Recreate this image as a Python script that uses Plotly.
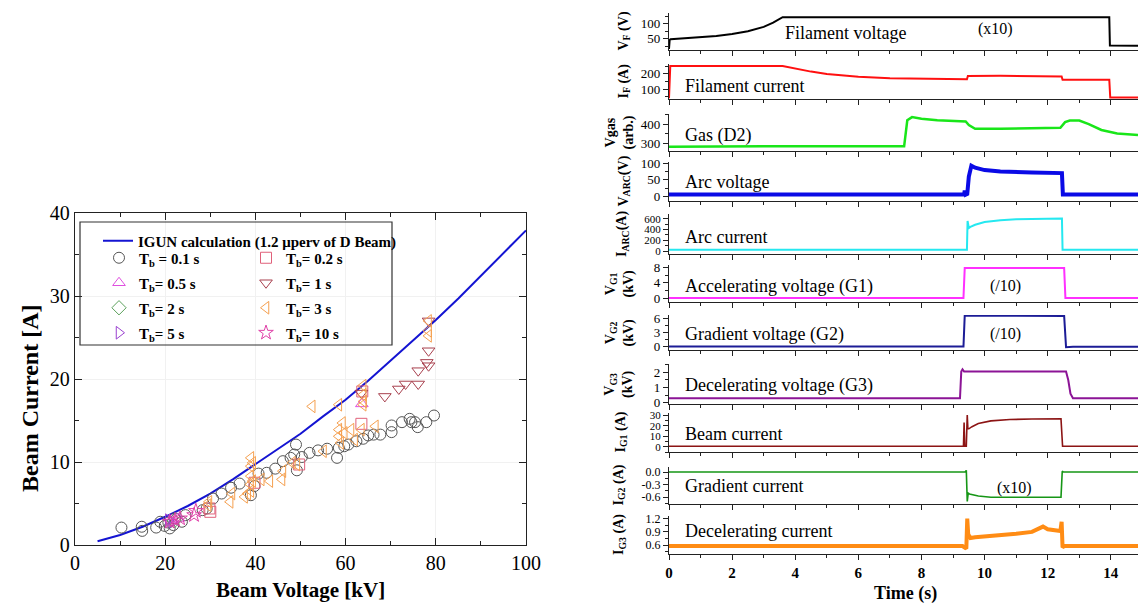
import plotly.graph_objects as go

W, H = 1138, 603
SERIF = "Liberation Serif"

def px(x):
    return x / W

def py(y):
    return 1 - y / H

# ---------------- Left chart data ----------------
igun_v = [5, 10, 15, 20, 25, 30, 35, 40, 45, 50, 55, 60, 65, 70, 75, 80, 85, 90, 95, 100]
igun_i = [0.45, 1.2, 2.2, 3.4, 4.7, 6.2, 7.9, 9.7, 11.5, 13.4, 15.5, 17.5, 19.8, 22.2, 24.7, 27.1, 29.7, 32.4, 35.1, 37.9]

tb01_v = [10.3, 14.8, 14.9, 18.0, 18.9, 19.9, 20.7, 21.0, 21.8, 22.2, 23.7, 24.5, 28.3, 29.2, 30.6, 32.5, 34.6, 36.5,
          39.0, 39.8, 40.7, 42.5, 44.4, 46.1, 47.8, 48.6, 49.0, 49.2, 50.3, 52.0, 53.9, 55.9, 58.1, 58.5, 59.7, 60.6,
          62.4, 63.9, 65.0, 66.2, 67.7, 70.2, 70.2, 72.5, 74.2, 74.6, 75.4, 76.0, 77.9, 79.6]
tb01_i = [2.1, 2.2, 1.7, 2.1, 2.8, 2.3, 2.7, 2.0, 2.4, 3.2, 2.8, 3.6, 4.2, 4.4, 5.6, 6.2, 6.9, 7.4,
          6.0, 7.1, 8.6, 8.7, 9.2, 10.1, 10.5, 10.9, 12.1, 9.0, 10.6, 11.1, 11.4, 11.6, 10.5, 11.7, 11.9, 12.1,
          12.5, 12.8, 13.2, 13.3, 13.3, 13.6, 14.4, 14.8, 15.2, 14.8, 14.8, 14.2, 14.8, 15.6]

tb02_v = [29.8, 30.0, 39.8, 49.7, 63.5, 63.7]
tb02_i = [4.4, 4.0, 7.5, 9.7, 14.6, 18.5]

tb05_v = [21.4, 22.9, 63.6]
tb05_i = [3.0, 3.2, 17.0]

tb1_v = [63.5, 68.7, 71.8, 73.3, 76.1, 76.1, 78.0, 78.4, 78.4, 78.4]
tb1_i = [18.3, 17.9, 18.8, 19.4, 19.4, 21.0, 22.0, 23.4, 21.6, 27.0]

tb2_v = [22.0]
tb2_i = [2.9]

tb3_v = [29.7, 29.5, 34.4, 34.8, 37.6, 38.3, 39.0, 39.0, 39.0, 38.9, 39.0, 39.4, 39.4, 41.3, 43.2, 45.9, 46.1,
         48.2, 49.2, 52.6, 55.1, 58.5, 58.5, 58.5, 58.9, 59.3, 59.7, 61.2, 62.0, 63.5, 63.9, 63.9, 64.0, 63.9,
         66.6, 78.4, 78.4, 78.4]
tb3_i = [5.2, 4.8, 5.2, 6.2, 5.8, 6.2, 10.5, 9.5, 8.3, 7.3, 6.5, 9.9, 7.7, 7.9, 7.7, 7.9, 8.9,
         9.9, 9.7, 16.7, 11.3, 13.9, 13.1, 16.9, 12.3, 14.7, 13.5, 13.9, 12.7, 13.9, 19.2, 18.1, 17.3, 16.9,
         14.3, 27.0, 25.2, 25.8]

tb5_v = [20.7, 21.5]
tb5_i = [3.0, 2.8]

tb10_v = [21.0, 22.2, 23.3, 26.4, 26.8]
tb10_i = [2.8, 3.0, 3.2, 3.6, 4.1]

legend_names = {
    "igun": "<b>IGUN calculation (1.2 \u03bcperv of D Beam)</b>",
    "tb01": "<b>T<sub>b</sub> = 0.1 s</b>",
    "tb02": "<b>T<sub>b</sub>= 0.2 s</b>",
    "tb05": "<b>T<sub>b</sub>= 0.5 s</b>",
    "tb1": "<b>T<sub>b</sub>= 1 s</b>",
    "tb2": "<b>T<sub>b</sub>= 2 s</b>",
    "tb3": "<b>T<sub>b</sub>= 3 s</b>",
    "tb5": "<b>T<sub>b</sub>= 5 s</b>",
    "tb10": "<b>T<sub>b</sub>= 10 s</b>",
}

# ---------------- Right chart data (time traces) ----------------
t_max = 14.86
vf_t = [0, 0.02, 0.05, 0.5, 1.0, 1.5, 2.0, 2.5, 3.0, 3.3, 3.6, 13.95, 13.97, t_max]
vf_v = [15, 45, 48, 51, 54, 59, 66, 75, 90, 104, 123, 123, 27, 26]

if_t = [0, 0.02, 0.04, 3.6, 4.0, 4.5, 5.0, 6.0, 7.0, 8.0, 9.44, 9.47, 10.5, 12.44, 12.47, 13.95, 13.98, t_max]
if_v = [40, 250, 252, 252, 235, 215, 200, 182, 172, 168, 165, 186, 187, 183, 162, 162, 45, 45]

gas_t = [0, 3, 7.45, 7.55, 7.7, 8.0, 8.5, 9.0, 9.4, 9.5, 9.7, 10.5, 11.5, 12.4, 12.55, 12.7, 13.0, 13.3, 13.7, 14.2, t_max]
gas_v = [284, 287, 286, 420, 436, 428, 420, 416, 414, 395, 376, 376, 379, 381, 410, 418, 418, 400, 370, 352, 344]

varc_t = [0, 9.35, 9.37, 9.40, 9.45, 9.5, 9.58, 9.7, 10.0, 10.5, 11.5, 12.45, 12.48, t_max]
varc_v = [6, 6, 18, 6, 8, 60, 92, 86, 79, 75, 72, 70, 6, 6]

iarc_t = [0, 9.44, 9.46, 9.5, 9.55, 9.7, 10.0, 10.5, 11.0, 12.0, 12.45, 12.47, t_max]
iarc_v = [25, 25, 560, 430, 450, 490, 540, 575, 590, 600, 605, 25, 25]

vg1_t = [0, 9.33, 9.37, 12.52, 12.56, t_max]
vg1_v = [0.1, 0.1, 7.8, 7.8, 0.1, 0.1]

vg2_t = [0, 9.33, 9.37, 12.52, 12.58, 12.8, t_max]
vg2_v = [0.05, 0.05, 6.6, 6.5, -0.1, 0.0, 0.0]

vg3_t = [0, 9.22, 9.26, 9.3, 9.35, 12.58, 12.65, 12.72, 12.8, t_max]
vg3_v = [0.3, 0.3, 2.05, 2.2, 2.05, 2.05, 1.5, 0.6, 0.3, 0.3]

ig1_t = [0, 9.33, 9.35, 9.37, 9.42, 9.45, 9.47, 9.5, 9.6, 9.8, 10.2, 10.8, 11.5, 12.3, 12.42, 12.47, t_max]
ig1_v = [0.5, 0.5, 23, 0.5, 0.5, 30, 17, 17, 19, 22, 24.5, 25.8, 26.3, 26.8, 26.5, 0.5, 0.5]

ig2_t = [0, 9.38, 9.42, 9.45, 9.48, 9.52, 9.8, 10.2, 11.0, 12.42, 12.46, 12.5, t_max]
ig2_v = [0, 0, 0.04, -0.7, -0.5, -0.52, -0.57, -0.6, -0.6, -0.6, 0.02, 0.0, 0.0]

ig3_t = [0, 9.3, 9.42, 9.45, 9.48, 9.55, 9.7, 10.5, 11.0, 11.5, 11.75, 11.85, 12.0, 12.2, 12.4, 12.44, 12.47, 12.52, t_max]
ig3_v = [0.58, 0.58, 0.52, 1.2, 0.85, 0.76, 0.78, 0.82, 0.86, 0.9, 0.98, 1.02, 0.96, 0.95, 0.92, 1.13, 0.55, 0.58, 0.58]

panel_labels = ["Filament voltage", "Filament current", "Gas (D2)", "Arc voltage", "Arc current",
                "Accelerating voltage (G1)", "Gradient voltage (G2)", "Decelerating voltage (G3)",
                "Beam current", "Gradient current", "Decelerating current"]
y_titles = ["V<sub>F</sub> (V)", "I<sub>F</sub> (A)", "Vgas<br>(arb.)", "V<sub>ARC</sub>(V)", "I<sub>ARC</sub>(A)",
            "V<sub>G1</sub><br>(kV)", "V<sub>G2</sub><br>(kV)", "V<sub>G3</sub><br>(kV)",
            "I<sub>G1</sub> (A)", "I<sub>G2</sub> (A)", "I<sub>G3</sub> (A)"]
x_ticks = [0, 2, 4, 6, 8, 10, 12, 14]

fig = go.Figure()

# ---------- left chart traces ----------
fig.add_trace(go.Scatter(x=igun_v, y=igun_i, mode="lines", line=dict(color="#1414d2", width=2),
                         name=legend_names["igun"], legend="legend"))

sym_specs = [
    ("tb01", tb01_v, tb01_i, "circle-open", "#555555", "legend2"),
    ("tb05", tb05_v, tb05_i, "triangle-up-open", "#e050e0", "legend3"),
    ("tb2", tb2_v, tb2_i, "diamond-open", "#5aa05a", "legend4"),
    ("tb5", tb5_v, tb5_i, "triangle-right-open", "#9a40d0", "legend5"),
    ("tb02", tb02_v, tb02_i, "square-open", "#e0607a", "legend6"),
    ("tb1", tb1_v, tb1_i, "triangle-down-open", "#a8404e", "legend7"),
    ("tb3", tb3_v, tb3_i, "triangle-left-open", "#f5a050", "legend8"),
    ("tb10", tb10_v, tb10_i, "star-open", "#e040a8", "legend9"),
]
for key, xv, yv, sym, col, leg in sym_specs:
    fig.add_trace(go.Scatter(x=xv, y=yv, mode="markers", name=legend_names[key], legend=leg,
                             marker=dict(symbol=sym, size=11, color=col, line=dict(color=col, width=1))))

# ---------- right chart traces ----------
series = [
    (vf_t, vf_v, "#000000", 2),
    (if_t, if_v, "#ff1010", 2),
    (gas_t, gas_v, "#19e619", 2.5),
    (varc_t, varc_v, "#0a0ae6", 4),
    (iarc_t, iarc_v, "#25e8f0", 2),
    (vg1_t, vg1_v, "#ff30ff", 2),
    (vg2_t, vg2_v, "#1c1c96", 2),
    (vg3_t, vg3_v, "#8c1496", 2),
    (ig1_t, ig1_v, "#8c1414", 1.6),
    (ig2_t, ig2_v, "#169616", 1.6),
    (ig3_t, ig3_v, "#ff8c14", 4),
]
panels = [(13, 50), (64, 99), (114, 151), (162, 201), (214, 254), (265, 302),
          (315, 350), (364, 404), (413, 452), (467, 504), (516, 554)]
y_ranges = [[11.5, 137], [35, 265], [262, 452], [-13, 103], [-55, 690], [-0.9, 8.6],
            [-0.7, 6.7], [-0.08, 2.55], [-5, 32], [-0.76, 0.12], [0.4, 1.26]]
y_tickvals = [[50, 100], [100, 200], [300, 400], [0, 50, 100], [0, 200, 400, 600], [0, 4, 8],
              [0, 3, 6], [0, 1, 2], [0, 10, 20, 30], [-0.6, -0.3, 0.0], [0.6, 0.9, 1.2]]
y_ticktext = [["50", "100"], ["100", "200"], ["300", "400"], ["0", "50", "100"], ["0", "200", "400", "600"],
              ["0", "4", "8"], ["0", "3", "6"], ["0", "1", "2"], ["0", "10", "20", "30"],
              ["-0.6", "-0.3", "0.0"], ["0.6", "0.9", "1.2"]]
y_minor = [25, 50, 50, 25, 100, 2, 1.5, 0.5, 5, 0.15, 0.15]
y_tick_size = [13, 13, 13, 13, 11, 13, 13, 13, 11, 12, 12]

layout = dict(
    template="none",
    width=W, height=H, margin=dict(l=0, r=0, t=0, b=0, pad=0, autoexpand=False),
    paper_bgcolor="white", plot_bgcolor="white",
    font=dict(family=SERIF, color="black"),
    showlegend=True,
)

# left axes
layout["xaxis"] = dict(domain=[px(75), px(526)], range=[0, 100], anchor="y", automargin=False,
                       showline=True, linecolor="#222", linewidth=1.3, mirror="allticks",
                       ticks="inside", ticklen=7, tickcolor="#222", dtick=20, tick0=0,
                       minor=dict(ticks="inside", ticklen=4, dtick=10, tickcolor="#222"),
                       showgrid=True, gridcolor="#f1f1f1", zeroline=False,
                       tickfont=dict(size=20, family=SERIF))
layout["yaxis"] = dict(domain=[py(545), py(213)], range=[0, 40], anchor="x", automargin=False,
                       showline=True, linecolor="#222", linewidth=1.3, mirror="allticks",
                       ticks="inside", ticklen=7, tickcolor="#222", dtick=10, tick0=0,
                       minor=dict(ticks="inside", ticklen=4, dtick=5, tickcolor="#222"),
                       showgrid=True, gridcolor="#f1f1f1", zeroline=False,
                       tickfont=dict(size=20, family=SERIF))

for i, (tt, vv, col, lw) in enumerate(series):
    k = i + 2
    fig.add_trace(go.Scatter(x=tt, y=vv, mode="lines", line=dict(color=col, width=lw),
                             xaxis=f"x{k}", yaxis=f"y{k}", showlegend=False))
    top, bot = panels[i]
    last = (i == len(series) - 1)
    layout[f"xaxis{k}"] = dict(domain=[px(669), 1.0], range=[0, t_max], anchor=f"y{k}", automargin=False,
                               showline=True, linecolor="#222", linewidth=1.3,
                               ticks="outside", ticklen=5, tickcolor="#222", tickvals=x_ticks,
                               minor=dict(ticks="outside", ticklen=3, dtick=1, tick0=0, tickcolor="#222"),
                               showticklabels=last, showgrid=False, zeroline=False,
                               tickfont=dict(size=15, family=SERIF, weight="bold"))
    layout[f"yaxis{k}"] = dict(domain=[py(bot), py(top)], range=y_ranges[i], anchor=f"x{k}", automargin=False,
                               showline=True, linecolor="#222", linewidth=1.3,
                               ticks="outside", ticklen=5, tickcolor="#222",
                               tickvals=y_tickvals[i], ticktext=y_ticktext[i],
                               minor=dict(ticks="outside", ticklen=3, dtick=y_minor[i], tickcolor="#222"),
                               showgrid=False, zeroline=False,
                               tickfont=dict(size=y_tick_size[i], family=SERIF))

# legends (one per entry, positioned like the reference)
leg_common = dict(bgcolor="rgba(0,0,0,0)", borderwidth=0, xanchor="left", yanchor="middle",
                  font=dict(size=15, family=SERIF), itemwidth=30)
leg_pos = {
    "legend": (98, 241),
    "legend2": (99, 258), "legend3": (99, 283), "legend4": (99, 308), "legend5": (99, 333),
    "legend6": (246, 258), "legend7": (246, 283), "legend8": (246, 308), "legend9": (246, 333),
}
for name, (lx, ly) in leg_pos.items():
    layout[name] = dict(leg_common, x=px(lx), y=py(ly))

fig.update_layout(**layout)

# legend frame
fig.add_shape(type="rect", xref="paper", yref="paper", x0=px(80), x1=px(392), y0=py(345), y1=py(222),
              line=dict(color="#333", width=1.2), fillcolor="rgba(0,0,0,0)")

ann = []
# left axis titles
ann.append(dict(text="<b>Beam Current [A]</b>", x=px(30), y=py(398), textangle=-90,
                font=dict(size=24, family=SERIF)))
ann.append(dict(text="<b>Beam Voltage [kV]</b>", x=px(300), y=py(590),
                font=dict(size=21, family=SERIF)))
# right x title
ann.append(dict(text="<b>Time (s)</b>", x=px(905), y=py(593), font=dict(size=18, family=SERIF)))

label_pos = [(783, 33), (683, 86), (683, 135), (683, 182), (683, 237), (683, 286),
             (683, 334), (683, 385), (683, 434), (683, 486), (683, 531)]
for (lx, ly), txt in zip(label_pos, panel_labels):
    ann.append(dict(text=txt, x=px(lx), y=py(ly), xanchor="left", font=dict(size=18, family=SERIF)))
for (lx, ly, txt) in [(995, 29, "(x10)"), (1005, 286, "(/10)"), (1005, 334, "(/10)"), (1014, 488, "(x10)")]:
    ann.append(dict(text=txt, x=px(lx), y=py(ly), font=dict(size=16, family=SERIF)))

ytitle_x = [624, 624, 619, 624, 622, 619, 619, 619, 621, 619, 619]
for i, txt in enumerate(y_titles):
    top, bot = panels[i]
    ann.append(dict(text=f"<b>{txt}</b>", x=px(ytitle_x[i]), y=py((top + bot) / 2), textangle=-90,
                    font=dict(size=14, family=SERIF)))

for a in ann:
    a.setdefault("xref", "paper")
    a.setdefault("yref", "paper")
    a.setdefault("showarrow", False)
    a.setdefault("xanchor", "center")
    a.setdefault("yanchor", "middle")
    fig.add_annotation(**a)

fig.write_html("out.html")
